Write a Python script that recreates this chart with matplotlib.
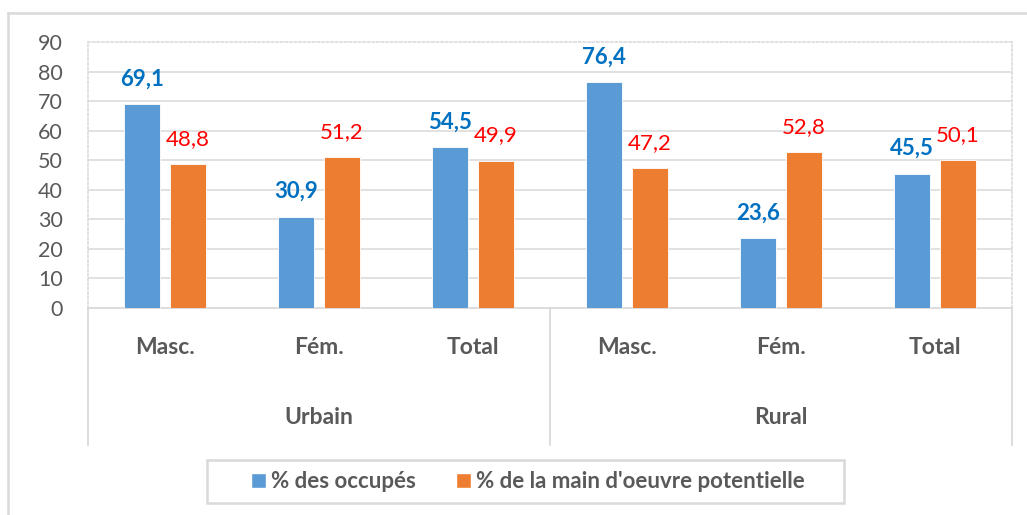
import matplotlib.pyplot as plt
from matplotlib.patches import Patch, Rectangle
from matplotlib.lines import Line2D
import matplotlib.transforms as mtransforms
import numpy as np

categories = ["Masc.", "Fém.", "Total", "Masc.", "Fém.", "Total"]
groups = ["Urbain", "Rural"]
occupes = [69.1, 30.9, 54.5, 76.4, 23.6, 45.5]
main_oeuvre = [48.8, 51.2, 49.9, 47.2, 52.8, 50.1]
series_names = ["% des occupés", "% de la main d'oeuvre potentielle"]
yticks = [0, 10, 20, 30, 40, 50, 60, 70, 80, 90]

BLUE = "#5B9BD5"
ORANGE = "#ED7D31"
GRAY = "#595959"
LINE = "#D9D9D9"

plt.rcParams["font.family"] = ["Lato", "DejaVu Sans"]

W, H = 1027, 515
fig = plt.figure(figsize=(W / 100, H / 100), dpi=100)
ax = fig.add_axes([88 / W, 1 - 308 / H, (1012 - 88) / W, (308 - 42) / H])

x = np.arange(len(categories))
bw = 0.235
off = 0.148
b1 = ax.bar(x - off, occupes, bw, color=BLUE, edgecolor="white", linewidth=0.6, zorder=3)
b2 = ax.bar(x + off, main_oeuvre, bw, color=ORANGE, edgecolor="white", linewidth=0.6, zorder=3)

def fmt(v):
    return f"{v:.1f}".replace(".", ",")

for rect, v in zip(b1, occupes):
    ax.annotate(fmt(v), (rect.get_x() + rect.get_width() / 2, v),
                xytext=(0, 18), textcoords="offset points",
                ha="center", va="center", fontsize=16, fontweight="bold",
                color="#0070C0")
for rect, v in zip(b2, main_oeuvre):
    ax.annotate(fmt(v), (rect.get_x() + rect.get_width() / 2, v),
                xytext=(0, 18), textcoords="offset points",
                ha="center", va="center", fontsize=16, color="#FF0000")

ax.set_xlim(-0.5, len(categories) - 0.5)
ax.set_ylim(0, 90)
ax.set_yticks(yticks)
ax.tick_params(axis="y", length=0, pad=18, labelsize=15.5, labelcolor=GRAY)
ax.set_xticks([])
for y in yticks[1:-1]:
    ax.axhline(y, color=LINE, lw=1.1, zorder=1)

for s in ["top", "left", "right"]:
    ax.spines[s].set_color(LINE)
    ax.spines[s].set_linestyle((0, (1.5, 1.5)))
    ax.spines[s].set_linewidth(1.1)
ax.spines["bottom"].set_color(LINE)
ax.spines["bottom"].set_linewidth(1.3)

# two-level category axis
tr = mtransforms.blended_transform_factory(ax.transData, ax.transAxes)
for xs in [-0.5, 2.5, 5.5]:
    ax.add_line(Line2D([xs, xs], [0, -0.515], transform=tr, color=LINE,
                       lw=1.3, clip_on=False))
for i, c in enumerate(categories):
    ax.text(i, -0.15, c, transform=tr, ha="center", va="center",
            fontsize=16.5, fontweight="bold", color=GRAY)
for g, gx in zip(groups, [1, 4]):
    ax.text(gx, -0.41, g, transform=tr, ha="center", va="center",
            fontsize=16.5, fontweight="bold", color=GRAY)

# legend with a hand-placed frame
fig.add_artist(Rectangle((207 / W, 1 - 503 / H), (844 - 207) / W, 43 / H,
                         transform=fig.transFigure, facecolor="white",
                         edgecolor=LINE, lw=1.8))
handles = [Patch(facecolor=BLUE, edgecolor="white"), Patch(facecolor=ORANGE, edgecolor="white")]
leg = fig.legend(handles, series_names, loc="center",
                 bbox_to_anchor=(528 / W, 1 - 481.5 / H), ncol=2,
                 frameon=False, handlelength=0.65, handleheight=0.65,
                 handletextpad=0.25, columnspacing=1.8,
                 prop={"size": 16, "weight": "bold"})
for t in leg.get_texts():
    t.set_color(GRAY)

# outer chart frame (cut at right and bottom)
fig.add_artist(Line2D([8 / W, 8 / W], [0, 1 - 13 / H], color=LINE, lw=1.8))
fig.add_artist(Line2D([8 / W, 1], [1 - 13 / H, 1 - 13 / H], color=LINE, lw=1.8))

fig.savefig("out.png", dpi=100)
